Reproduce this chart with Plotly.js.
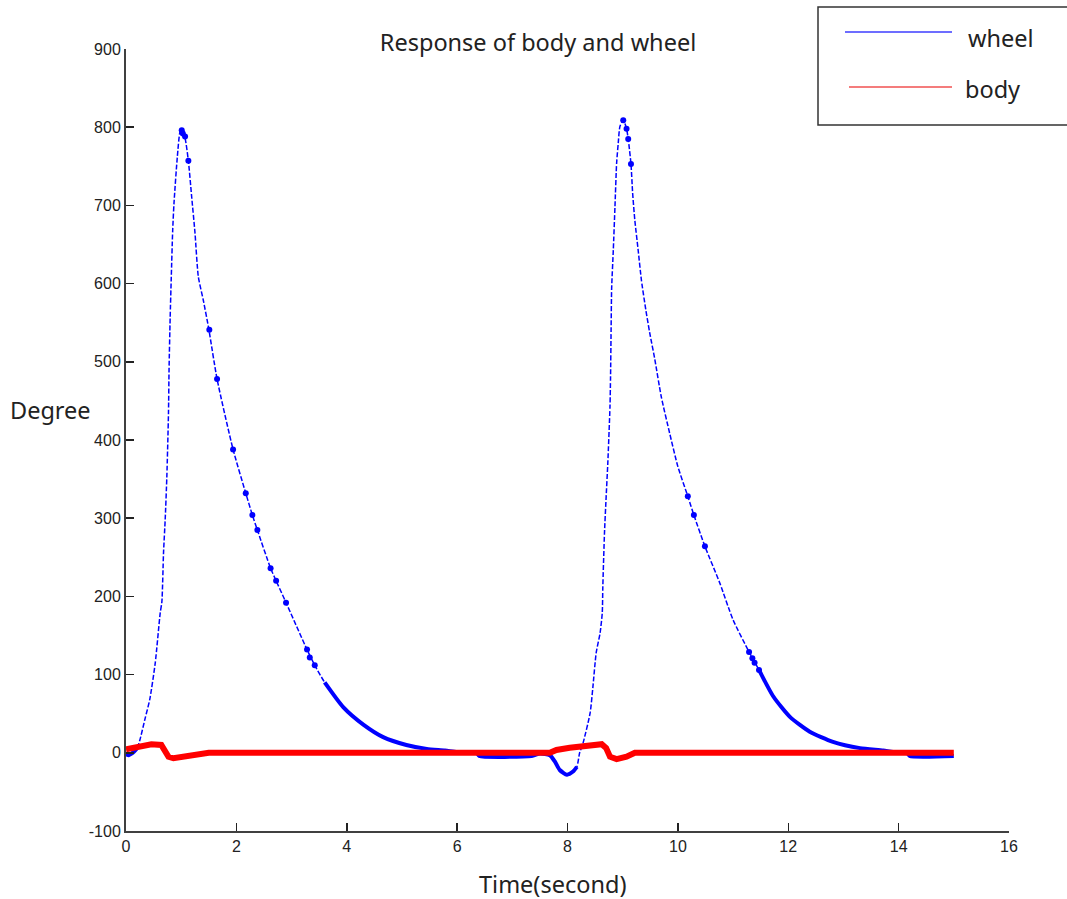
<!DOCTYPE html>
<html>
<head>
<meta charset="utf-8">
<script src="https://cdn.plot.ly/plotly-3.0.1.min.js"></script>
<style>html,body{margin:0;padding:0;background:#fff;}#chart{width:1067px;height:899px;}</style>
</head>
<body>
<div id="chart"></div>
<script>
// ---- data ----
const wheelTime = [0,0.05,0.1,0.15,0.2,0.25,0.35,0.43,0.53,0.62,0.65,0.68,0.71,0.74,0.77,0.78,0.8,0.82,0.846,0.87,0.93,0.98,1.01,1.07,1.13,1.19,1.25,1.31,1.40,1.50,1.65,1.94,2.17,2.29,2.38,2.62,2.72,2.90,3.28,3.42,3.60,3.94,4.30,4.66,5.08,5.45,5.78,6.0,6.35,6.4,7.35,7.5,7.68,7.77,7.86,7.99,8.10,8.17,8.22,8.28,8.41,8.46,8.52,8.59,8.63,8.64,8.67,8.70,8.73,8.77,8.78,8.79,8.80,8.83,8.86,8.89,8.92,8.95,9.01,9.07,9.10,9.15,9.18,9.22,9.28,9.34,9.42,9.49,9.58,9.70,9.85,10.0,10.18,10.29,10.49,10.76,11.0,11.29,11.47,11.73,12.03,12.39,12.81,13.30,13.72,13.9,14.15,14.2,15.0];
const wheelDeg  = [-2,-3,-1,2,6,16,45,68,115,179,193,256,298,353,435,490,556,607,668,703,762,794,796,786,757,711,665,609,579,542,478,388,332,304,285,236,220,192,132,112,90,58,36,20,10,5,3,1,0,-4,-4,-1,-3,-11,-22,-28,-24,-18,0,12,51,84,128,153,179,212,281,327,370,443,481,541,594,643,698,754,780,801,809,798,785,753,716,681,643,604,566,537,504,455,409,366,328,304,264,217,170,129,106,72,46,27,14,6,3,1,0,-4,-4];

const bodyTime = [0,0.25,0.46,0.64,0.71,0.77,0.86,1.04,1.16,1.28,1.5,7.68,7.80,8.04,8.34,8.62,8.70,8.77,8.89,9.07,9.22,15.0];
const bodyDeg  = [4.5,8.7,11,10,3.6,-5,-7,-5,-2,-0.6,0,0,3.6,6.5,9,11,6,-5,-8,-5,0,0];

// heavy sample dots visible along the wheel curve
const dotTime = [1.01,1.03,1.07,1.13,1.51,1.65,1.94,2.17,2.29,2.38,2.62,2.72,2.90,3.28,3.33,3.42,9.01,9.07,9.10,9.15,10.18,10.29,10.49,11.29,11.35,11.39,11.47];
const dotDeg  = [796,792,788,757,541,478,388,332,304,285,236,220,192,132,122,112,809,798,785,753,328,304,264,129,121,115,106];

const xTicks = [0,2,4,6,8,10,12,14,16];
const yTicks = [-100,0,100,200,300,400,500,600,700,800,900];

// ---- styling helpers ----
const denseRanges = [[0,0.22],[3.55,7.6],[7.6,8.2],[11.45,15.01]];
function inDense(t){ return denseRanges.some(r => t >= r[0] && t <= r[1]); }
const denseDeg = wheelTime.map((t,i) => inDense(t) ? wheelDeg[i] : null);

const BLUE = 'rgb(0,0,255)';
const RED = 'rgb(255,0,0)';
const AX = '#404040';

const traces = [
  {x: wheelTime, y: wheelDeg, type:'scatter', mode:'lines', name:'wheel',
   line:{color:BLUE, width:1.5, dash:'5px,2px', shape:'spline', smoothing:0.6}, showlegend:false},
  {x: wheelTime, y: denseDeg, type:'scatter', mode:'lines', name:'wheel',
   line:{color:BLUE, width:4, shape:'spline', smoothing:0.6}, connectgaps:false, showlegend:false},
  {x: dotTime, y: dotDeg, type:'scatter', mode:'markers', name:'wheel',
   marker:{color:BLUE, size:6}, showlegend:false},
  {x: bodyTime, y: bodyDeg, type:'scatter', mode:'lines', name:'body',
   line:{color:RED, width:6}, showlegend:false}
];

// paper-coordinate helpers (plot area: x 126..1009, y 49..831 px)
const px = v => (v - 126) / 883;
const py = v => (831 - v) / 782;

const textFont = {family:'Noto Sans, Open Sans, sans-serif', size:23.5, color:'#222'};

const layout = {
  width:1067, height:899, autosize:false,
  paper_bgcolor:'#fff', plot_bgcolor:'#fff',
  margin:{l:126, r:58, t:49, b:68},
  showlegend:false,
  title:{text:'Response of body and wheel', font:textFont,
         x:538/1067, xref:'container', xanchor:'center',
         y:1-43/899, yref:'container', yanchor:'middle'},
  xaxis:{range:[0,16], tickvals:xTicks, ticktext:xTicks.map(String),
         showline:true, linecolor:AX, linewidth:2, mirror:false,
         ticks:'inside', ticklen:8, tickwidth:1.5, tickcolor:'#222',
         showgrid:false, zeroline:false,
         tickfont:{family:'Liberation Sans, Arial, sans-serif', size:16, color:'#222'}},
  yaxis:{range:[-100,900], tickvals:yTicks, ticktext:yTicks.map(String),
         showline:true, linecolor:AX, linewidth:2, mirror:false,
         ticks:'inside', ticklen:8, tickwidth:1.5, tickcolor:'#222',
         showgrid:false, zeroline:false,
         tickfont:{family:'Liberation Sans, Arial, sans-serif', size:16, color:'#222'}},
  annotations:[
    {text:'Degree', xref:'paper', yref:'paper', x:px(50), y:py(410),
     xanchor:'center', yanchor:'middle', showarrow:false, font:textFont},
    {text:'Time(second)', xref:'paper', yref:'paper', x:px(552), y:py(884),
     xanchor:'center', yanchor:'middle', showarrow:false, font:textFont},
    {text:'wheel', xref:'paper', yref:'paper', x:px(966), y:py(38),
     xanchor:'left', yanchor:'middle', showarrow:false, font:textFont},
    {text:'body', xref:'paper', yref:'paper', x:px(963), y:py(89),
     xanchor:'left', yanchor:'middle', showarrow:false, font:textFont}
  ],
  shapes:[
    {type:'rect', xref:'paper', yref:'paper', x0:px(818), x1:px(1080), y0:py(125), y1:py(7),
     line:{color:'#333', width:1.5}, fillcolor:'rgba(255,255,255,1)', layer:'above'},
    {type:'line', xref:'paper', yref:'paper', x0:px(845), x1:px(952), y0:py(32), y1:py(32),
     line:{color:'rgb(60,60,255)', width:1.5}},
    {type:'line', xref:'paper', yref:'paper', x0:px(849), x1:px(952), y0:py(87), y1:py(87),
     line:{color:'rgb(240,80,80)', width:1.5}}
  ]
};

Plotly.newPlot('chart', traces, layout, {displayModeBar:false, staticPlot:true});
</script>
</body>
</html>
